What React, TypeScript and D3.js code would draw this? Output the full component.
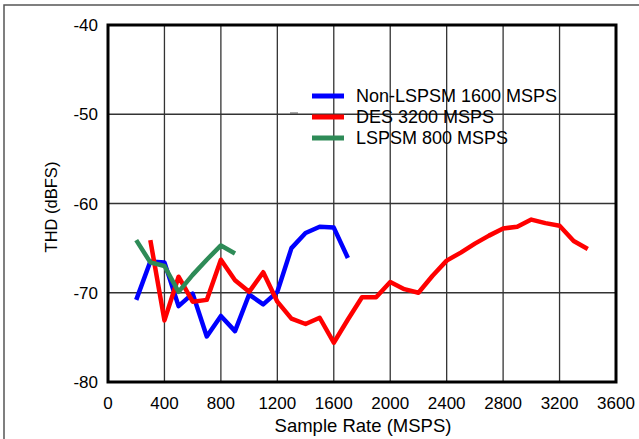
import React from "react";
import * as d3 from "d3";

const xTicks = [0, 400, 800, 1200, 1600, 2000, 2400, 2800, 3200, 3600];
const yTicks = [-40, -50, -60, -70, -80];

const blueX = [200, 300, 400, 500, 600, 700, 800, 900, 1000, 1100, 1200, 1300, 1400, 1500, 1600, 1700];
const blueY = [-70.8, -66.5, -66.6, -71.5, -70.1, -74.9, -72.6, -74.3, -70.2, -71.3, -69.9, -65.0, -63.3, -62.6, -62.7, -66.1];

const redX = [300, 400, 500, 600, 700, 800, 900, 1000, 1100, 1200, 1300, 1400, 1500, 1600, 1700, 1800, 1900, 2000, 2100, 2200, 2300, 2400, 2500, 2600, 2700, 2800, 2900, 3000, 3100, 3200, 3300, 3400];
const redY = [-64.1, -73.1, -68.2, -71.0, -70.8, -66.3, -68.6, -69.9, -67.7, -71.0, -72.9, -73.5, -72.8, -75.6, -73.0, -70.5, -70.5, -68.8, -69.6, -70.0, -68.1, -66.4, -65.5, -64.5, -63.6, -62.8, -62.6, -61.8, -62.2, -62.5, -64.2, -65.1];

const greenX = [200, 300, 400, 500, 600, 700, 800, 900];
const greenY = [-64.1, -66.6, -67.0, -69.9, -68.0, -66.3, -64.7, -65.6];

const seriesNames = ["Non-LSPSM 1600 MSPS", "DES 3200 MSPS", "LSPSM 800 MSPS"];
const seriesColors = ["#0000ff", "#ff0000", "#2e8b57"];

export default function App() {
  const W = 639, H = 439;
  const x = d3.scaleLinear().domain([0, 3600]).range([108, 616]);
  const y = d3.scaleLinear().domain([-40, -80]).range([25, 382]);
  const line = d3.line<[number, number]>().x(d => x(d[0])).y(d => y(d[1]));
  const series = [
    blueX.map((v, i) => [v, blueY[i]] as [number, number]),
    redX.map((v, i) => [v, redY[i]] as [number, number]),
    greenX.map((v, i) => [v, greenY[i]] as [number, number]),
  ];
  const font = "'Liberation Sans', Arial, sans-serif";
  return (
    <svg width={W} height={H} style={{ position: "fixed", left: 0, top: 0, background: "#fff" }} fontFamily={font}>
      <rect x={0} y={0} width={W} height={H} fill="#fff" />
      <rect x={4} y={5} width={W + 20} height={H + 20} fill="none" stroke="#555" strokeWidth={1.5} />
      {xTicks.slice(1, -1).map(t => (
        <line key={"gx" + t} x1={x(t)} x2={x(t)} y1={y(-40)} y2={y(-80)} stroke="#333" strokeWidth={1.3} />
      ))}
      {yTicks.slice(1, -1).map(t => (
        <line key={"gy" + t} x1={x(0)} x2={x(3600)} y1={y(t)} y2={y(t)} stroke="#333" strokeWidth={1.3} />
      ))}
      <rect x={x(0)} y={y(-40)} width={x(3600) - x(0)} height={y(-80) - y(-40)} fill="none" stroke="#000" strokeWidth={3} />
      {series.map((s, i) => (
        <path key={"s" + i} d={line(s) || ""} fill="none" stroke={seriesColors[i]} strokeWidth={4.5} strokeLinejoin="round" />
      ))}
      {xTicks.map(t => (
        <text key={"xt" + t} x={x(t)} y={409} textAnchor="middle" fontSize={17} fill="#000">{t}</text>
      ))}
      {yTicks.map(t => (
        <text key={"yt" + t} x={98} y={y(t) + 6} textAnchor="end" fontSize={17} fill="#000">{t}</text>
      ))}
      <text x={363} y={432} textAnchor="middle" fontSize={18.5} fill="#000">Sample Rate (MSPS)</text>
      <text transform={`translate(57,207) rotate(-90)`} textAnchor="middle" fontSize={16.5} fill="#000">THD (dBFS)</text>
      <line x1={290} x2={298} y1={113} y2={113} stroke="#555" strokeWidth={1} />
      {seriesNames.map((n, i) => (
        <g key={"lg" + i}>
          <line x1={312} x2={344} y1={96 + i * 21} y2={96 + i * 21} stroke={seriesColors[i]} strokeWidth={5} />
          <text x={356} y={102 + i * 21} fontSize={18} fill="#000">{n}</text>
        </g>
      ))}
    </svg>
  );
}
